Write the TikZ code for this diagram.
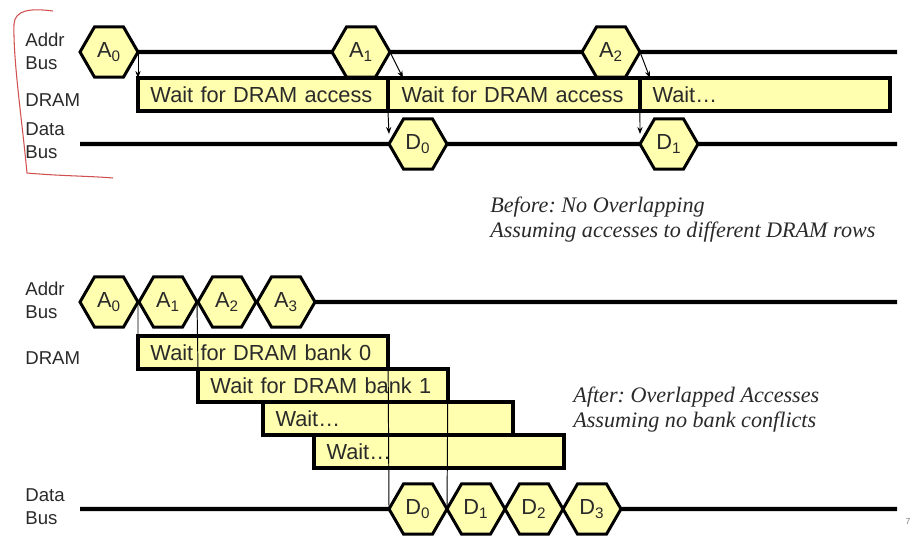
\documentclass[tikz,border=0pt]{standalone}
\usepackage{fontspec}
\setmainfont{Liberation Sans}
\newfontfamily\notefont{Liberation Serif}
\usetikzlibrary{shapes.geometric,calc,arrows.meta}
\definecolor{ink}{HTML}{2A2A2A}
\definecolor{slotfill}{HTML}{FFFFAF}
\definecolor{pen}{HTML}{D05050}
\tikzset{
  slot/.style={regular polygon, regular polygon sides=6,
    minimum size=1.16cm, inner sep=0pt, outer sep=0pt, draw=black, line width=1.7pt,
    fill=slotfill, text=ink, font=\fontsize{12.4}{14}\selectfont},
  waitbox/.style={rectangle, draw=black, line width=2.2pt, fill=slotfill,
    anchor=north west, outer sep=0pt, minimum width=#1, minimum height=0.66cm,
    inner xsep=0.25cm, inner ysep=0pt, text width=4.5cm, align=left,
    text=ink, font=\fontsize{12.4}{14}\selectfont},
  bus/.style={line width=2.4pt},
  tick/.style={line width=0.55pt, -{Stealth[length=4pt,width=3pt]}},
  guide/.style={line width=0.55pt},
  rowlabel/.style={anchor=west, inner sep=0pt, align=left, text=ink,
    font=\fontsize{10.6}{13}\selectfont},
  note/.style={anchor=west, inner sep=0pt, align=left, text=ink,
    font=\notefont\itshape\frenchspacing\fontsize{12.6}{14.2}\selectfont}
}
\begin{document}
\begin{tikzpicture}[x=0.02cm,y=-0.02cm]
    \useasboundingbox (0,0) rectangle (913,542);

    % before
    \node[rowlabel] (tal) at (25,51) {Addr\\Bus};
    \node[rowlabel] (twl) at (25,100) {DRAM};
    \node[rowlabel] (tdl) at (25,141) {Data\\Bus};

    \node[slot] (ta0) at (109,52) {A\textsubscript{0}};
    \node[slot] (ta1) at (361,52) {A\textsubscript{1}};
    \node[slot] (ta2) at (611,52) {A\textsubscript{2}};
    \coordinate (taend) at (897,52);
    \draw[bus] (ta0.east) -- (ta1.west) (ta1.east) -- (ta2.west) (ta2.east) -- (taend);

    \node[waitbox=5cm] (tw0) at (138,78) {Wait for DRAM access};
    \node[waitbox=5.04cm] (tw1) at (388,78) {Wait for DRAM access};
    \node[waitbox=4.96cm] (tw2) at (640,78) {Wait\ldots};

    \coordinate (tdstart) at (80,144);
    \node[slot] (td0) at (418,144) {D\textsubscript{0}};
    \node[slot] (td1) at (669,144) {D\textsubscript{1}};
    \coordinate (tdend) at (897,144);
    \draw[bus] (tdstart) -- (td0.west) (td0.east) -- (td1.west) (td1.east) -- (tdend);

    \draw[tick] (ta0.east) -- (ta0.east |- tw0.north);
    \draw[tick] (ta1.east) -- ($(tw1.north west)+(15,0)$);
    \draw[tick] (ta2.east) -- ($(tw2.north west)+(10,0)$);
    \draw[tick] (tw0.south east) -- ($(td0.west)+(0,-10)$);
    \draw[tick] (tw1.south east) -- ($(td1.west)+(0,-10)$);

    \node[note] (before) at (490,219.5) {Before: No Overlapping\\Assuming accesses to different DRAM rows};

    \draw[pen, line width=0.6pt] (53,11) .. controls (30,8) and (15,10) .. (14,24)
        .. controls (13,60) and (22,120) .. (27,173) .. controls (60,176) and (90,176) .. (113,178);

    % after
    \node[rowlabel] (bal) at (25,300) {Addr\\Bus};
    \node[rowlabel] (bwl) at (25,358) {DRAM};
    \node[rowlabel] (bdl) at (25,507) {Data\\Bus};

    \node[slot] (ba0) at (109,302) {A\textsubscript{0}};
    \node[slot] (ba1) at (168,302) {A\textsubscript{1}};
    \node[slot] (ba2) at (227,302) {A\textsubscript{2}};
    \node[slot] (ba3) at (286,302) {A\textsubscript{3}};
    \coordinate (baend) at (897,302);
    \draw[bus] (ba3.east) -- (baend);

    \node[waitbox=5cm] (bw0) at (138,336) {Wait for DRAM bank 0};
    \node[waitbox=5cm] (bw1) at (198,369) {Wait for DRAM bank 1};
    \node[waitbox=5cm] (bw2) at (263,402) {Wait\ldots};
    \node[waitbox=5cm] (bw3) at (314,435) {Wait\ldots};

    \coordinate (bdstart) at (80,509);
    \node[slot] (bd0) at (418,509) {D\textsubscript{0}};
    \node[slot] (bd1) at (476,509) {D\textsubscript{1}};
    \node[slot] (bd2) at (534,509) {D\textsubscript{2}};
    \node[slot] (bd3) at (592,509) {D\textsubscript{3}};
    \coordinate (bdend) at (897,509);
    \draw[bus] (bdstart) -- (bd0.west) (bd3.east) -- (bdend);

    \draw[guide] (ba0.east) -- (bw0.north west);
    \draw[guide] (ba1.east) -- (bw1.north west);
    \draw[guide] (bw0.north east) -- (bd0.west);
    \draw[guide] (bw1.north east) -- (bd1.west);

    \node[note] (after) at (573,410) {After: Overlapped Accesses\\Assuming no bank conflicts};

    \node[text=gray, font=\fontsize{5}{6}\selectfont] (pageno) at (908,521) {7};
\end{tikzpicture}
\end{document}
